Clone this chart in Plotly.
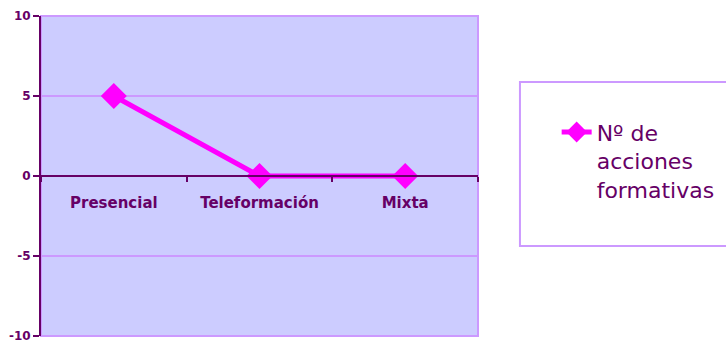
import plotly.graph_objects as go

categorias = ["Presencial", "Teleformación", "Mixta"]
acciones = [5, 0, 0]
serie = "Nº de<br>acciones<br>formativas"
y_ticks = [-10, -5, 0, 5, 10]
y_labels = ["-10", "-5", "0", "5", "10"]

morado = "#660066"
lila = "#CC99FF"
magenta = "#FF00FF"

fig = go.Figure()
fig.add_trace(go.Scatter(
    x=categorias, y=acciones, mode="lines+markers", name=serie,
    line=dict(color=magenta, width=5),
    marker=dict(symbol="diamond", size=20, color=magenta),
))

fig.update_layout(
    width=726, height=342,
    margin=dict(l=41, r=237, t=16, b=6),
    paper_bgcolor="white", plot_bgcolor="#CCCCFF",
    font=dict(family="DejaVu Sans", color=morado),
    showlegend=True,
    legend=dict(x=1.18, y=0.7025, xanchor="left", yanchor="top", valign="top",
                font=dict(size=22, color=morado), bgcolor="rgba(0,0,0,0)",
                tracegroupgap=0),
    shapes=[
        dict(type="rect", xref="x domain", yref="y domain", x0=0, x1=1, y0=0, y1=1,
             line=dict(color=lila, width=2), layer="below"),
        dict(type="rect", xref="paper", yref="paper", x0=1.096, x1=1.58, y0=0.281, y1=0.794,
             line=dict(color=lila, width=2)),
    ],
)

fig.update_xaxes(
    type="category", range=[-0.5, 2.5], anchor="free", position=0.5, automargin=False,
    showline=True, linecolor=morado, linewidth=2,
    ticks="outside", tickson="boundaries", ticklen=5, tickcolor=morado, tickwidth=2,
    ticklabelstandoff=13,
    tickfont=dict(size=15, color=morado, weight="bold"),
    showgrid=False,
)
fig.update_yaxes(
    range=[-10, 10], tickvals=y_ticks, ticktext=y_labels, automargin=False,
    ticklabeloverflow="allow",
    showline=True, linecolor=morado, linewidth=2,
    ticks="outside", ticklen=6, tickcolor=morado, tickwidth=2,
    tickfont=dict(size=12, color=morado, weight="bold"),
    showgrid=True, gridcolor=lila, gridwidth=2, zeroline=False,
)

fig.write_html("out.html", config={"displayModeBar": False},
               post_script="document.body.style.margin='0';document.body.style.overflow='hidden';")
